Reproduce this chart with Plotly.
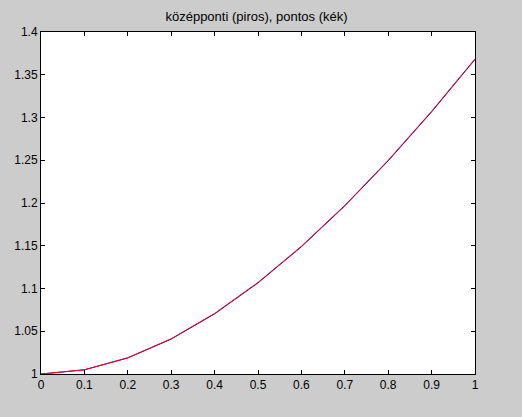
import plotly.graph_objects as go

# grid points
x = [0.0, 0.1, 0.2, 0.3, 0.4, 0.5, 0.6, 0.7, 0.8, 0.9, 1.0]
# midpoint method (red)
y_kozep = [1.0, 1.005, 1.019025, 1.041218, 1.070802, 1.107076,
           1.149404, 1.197211, 1.249976, 1.307228, 1.368541]
# exact solution (blue)
y_pontos = [1.0, 1.004837, 1.018731, 1.040818, 1.070320, 1.106531,
            1.148812, 1.196585, 1.249329, 1.306570, 1.367879]

x_ticks = [0, 0.1, 0.2, 0.3, 0.4, 0.5, 0.6, 0.7, 0.8, 0.9, 1]
x_labels = ["0", "0.1", "0.2", "0.3", "0.4", "0.5", "0.6", "0.7", "0.8", "0.9", "1"]
y_ticks = [1, 1.05, 1.1, 1.15, 1.2, 1.25, 1.3, 1.35, 1.4]
y_labels = ["1", "1.05", "1.1", "1.15", "1.2", "1.25", "1.3", "1.35", "1.4"]

fig = go.Figure()
fig.add_trace(go.Scatter(x=x, y=y_pontos, mode="lines",
                         line=dict(color="rgb(0, 0, 255)", width=1)))
fig.add_trace(go.Scatter(x=x, y=y_kozep, mode="lines",
                         line=dict(color="rgb(255, 0, 0)", width=1)))

axis_style = dict(
    showline=True, linecolor="black", linewidth=1, mirror="ticks",
    ticks="inside", ticklen=4, tickcolor="black", tickwidth=1,
    showgrid=False, zeroline=False,
    tickfont=dict(family="Liberation Sans, Arial", size=12, color="black"),
)

fig.update_layout(
    width=522, height=417,
    margin=dict(l=41, r=47, t=32, b=43),
    paper_bgcolor="rgb(204, 204, 204)",
    plot_bgcolor="white",
    showlegend=False,
    title=dict(text="középponti (piros), pontos (kék)", x=0.4914, xanchor="center",
               y=0.9616, yanchor="middle",
               font=dict(family="Liberation Sans, Arial", size=13, color="black")),
    xaxis=dict(range=[0, 1], tickvals=x_ticks, ticktext=x_labels, **axis_style),
    yaxis=dict(range=[1, 1.4], tickvals=y_ticks, ticktext=y_labels, **axis_style),
)

# no body margin, so the figure fills the window
fig.write_html("out.html", config={"displayModeBar": False},
               post_script="document.body.style.margin='0';")
